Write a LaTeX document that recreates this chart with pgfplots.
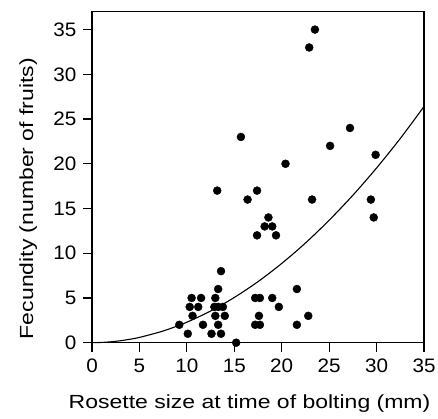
\documentclass[border=0pt]{standalone}
\usepackage{pgfplots}
\pgfplotsset{compat=1.18}
\usepackage{fontspec}
\setmainfont{Liberation Sans}
\newfontfamily\labelfont[FakeStretch=1.21]{Liberation Sans}
\newfontfamily\tickfont[FakeStretch=1.06]{Liberation Sans}
\begin{document}
\begin{tikzpicture}
\begin{axis}[
  name=ax,
  scale only axis,
  width=332pt, height=331pt,
  xmin=0, xmax=35, ymin=0, ymax=37,
  xtick={0,5,...,35}, ytick={0,5,...,35},
  tick align=outside, major tick length=9pt,
  xtick pos=bottom, ytick pos=left,
  axis line style={line width=1.3pt},
  every tick/.style={line width=1.2pt, black},
  tick label style={font=\tickfont\fontsize{19.5}{21}\selectfont},
  xticklabel style={yshift=-4pt},
  yticklabel style={xshift=-3pt},
  /pgf/number format/assume math mode=true,
  xlabel={Rosette size at time of bolting (mm)},
  ylabel={Fecundity (number of fruits)},
  label style={font=\labelfont\fontsize{19}{22}\selectfont},
  xlabel style={at={(axis description cs:0.4745,-0.1973)}, anchor=base},
  ylabel style={at={(axis description cs:-0.1777,0.4356)}, anchor=base},
  clip=false,
]
\addplot[only marks, mark=*, mark size=4pt, black] coordinates {
(9.2,2) (10.1,1) (10.3,4) (10.5,5) (10.6,3) (11.2,4) (11.5,5) (11.7,2)
(12.6,1) (13.0,5) (12.9,4) (13.3,4) (13.8,4) (13.0,3) (14.0,3) (13.3,2)
(13.6,1) (13.3,6) (13.6,8) (13.2,17) (15.2,0) (15.7,23) (16.4,16) (17.4,17)
(17.4,12) (17.2,5) (17.7,5) (17.6,3) (17.2,2) (17.7,2) (18.2,13) (18.6,14)
(19.0,13) (19.4,12) (19.0,5) (19.7,4) (20.4,20) (21.6,6) (21.6,2) (22.8,3)
(22.9,33) (23.5,35) (23.2,16) (25.1,22) (27.2,24) (29.4,16) (29.7,14) (29.9,21)
};
\addplot[smooth, line width=1.1pt, black] coordinates {
(0,0) (1.25,0.04) (2.5,0.154) (3.75,0.34) (5,0.593) (7.5,1.308) (10,2.292) (12.5,3.542)
(15,5.054) (17.5,6.824) (20,8.858) (22.5,11.14) (25,13.69) (27.5,16.48)
(30,19.53) (32.5,22.83) (35,26.40)
};
\draw[line width=1.3pt, line cap=rect] (rel axis cs:1,0) -- (rel axis cs:1,1);
\end{axis}
\pgfresetboundingbox
\path (ax.south west) ++(-92pt,-76.3pt) rectangle ++(438pt,419pt);
\end{tikzpicture}
\end{document}
